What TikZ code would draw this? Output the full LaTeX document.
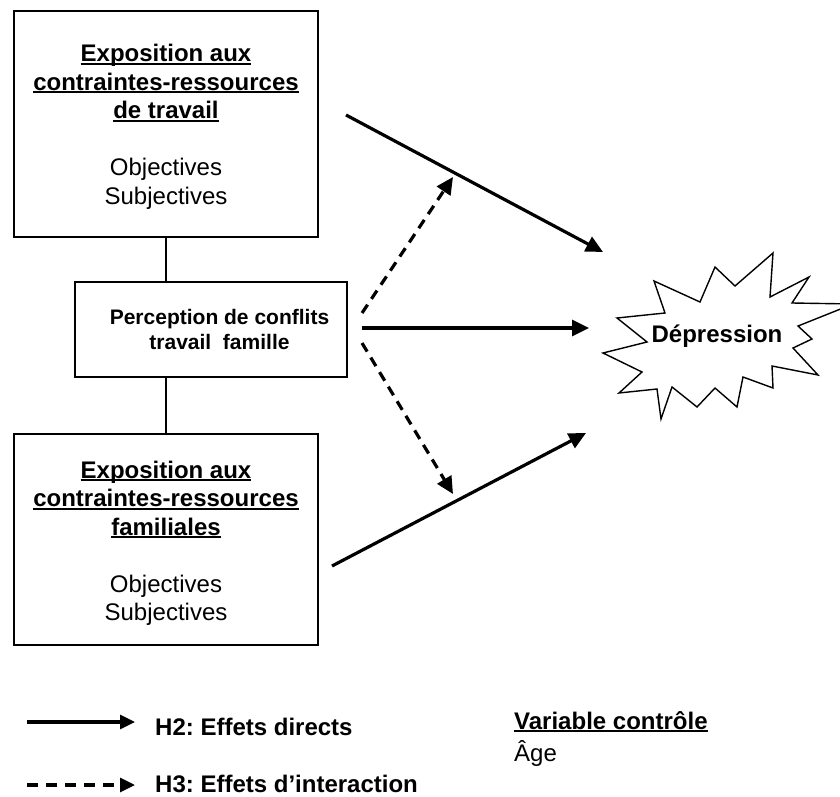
\documentclass[tikz,border=0pt]{standalone}
\usepackage{fontspec}
\setmainfont{Liberation Sans}
\usetikzlibrary{arrows.meta}
\frenchspacing
\newsavebox\ulsave
\newcommand\ulx[1]{\sbox\ulsave{#1}\rlap{\rule[-3pt]{\wd\ulsave}{2pt}}\usebox\ulsave}
\begin{document}
\begin{tikzpicture}[x=1pt,y=-1pt,
  box/.style={draw,line width=1.6pt,inner sep=0pt},
  big/.style={font=\fontsize{24}{28.5}\selectfont,align=center,inner sep=0pt},
  mid/.style={font=\fontsize{21}{25}\selectfont\bfseries,align=center,inner sep=0pt},
  link/.style={line width=1.6pt},
  direct/.style={line width=3.2pt,-{Triangle[length=17pt,width=16pt]}},
  inter/.style={direct,dash pattern=on 10pt off 7pt},
  legdirect/.style={line width=3.2pt,-{Triangle[length=15pt,width=14pt]}},
  leginter/.style={legdirect,dash pattern=on 11pt off 8pt},
  legtext/.style={font=\fontsize{24}{28.5}\selectfont,inner sep=0pt}]
\useasboundingbox (0,0) rectangle (840,797);

% boxes
\node[box,minimum width=304pt,minimum height=226pt] (top) at (166,124) {};
\node[box,minimum width=272pt,minimum height=95pt] (midb) at (211,329.5) {};
\node[box,minimum width=304pt,minimum height=211pt] (bot) at (166,539.5) {};

\node[big] (toptxt) at (166,127) {\ulx{\textbf{Exposition aux}}\\\ulx{\textbf{contraintes-ressources}}\\\ulx{\textbf{de travail}}\\[28.5pt]Objectives\\Subjectives};
\node[big] (bottxt) at (166,543.5) {\ulx{\textbf{Exposition aux}}\\\ulx{\textbf{contraintes-ressources}}\\\ulx{\textbf{familiales}}\\[28.5pt]Objectives\\Subjectives};
\node[mid] (midtxt) at (219.5,329) {Perception de conflits\\travail\ \ famille};

\draw[link] (top.south) -- (top.south |- midb.north);
\draw[link] (bot.north |- midb.south) -- (bot.north);

% starburst
\draw[line width=1.4pt,fill=white]
  (617,318) -- (665,313) -- (654,281) -- (700,302) -- (715,267) -- (735,286)
  -- (773,253) -- (770,297) -- (809,277) -- (792,303) -- (853,304) -- (798,326)
  -- (812,339) -- (793,348) -- (818,375) -- (772,366) -- (773,388) -- (743,377)
  -- (737,407) -- (715,388) -- (697,407) -- (672,387) -- (661,419) -- (657,389)
  -- (619,393) -- (642,372) -- (603,353) -- (647,342) -- cycle;
\node[font=\fontsize{24}{28.5}\selectfont\bfseries,inner sep=0pt,anchor=base] (dep) at (717,342) {Dépression};

% arrows
\coordinate (a1s) at (346,115);
\coordinate (a1e) at (603,252);
\coordinate (a2s) at (362,328);
\coordinate (a2e) at (589,328);
\coordinate (a3s) at (332,566);
\coordinate (a3e) at (586,433);
\coordinate (d1s) at (362,313);
\coordinate (d1e) at (453,177);
\coordinate (d2s) at (362,343);
\coordinate (d2e) at (453,494);
\draw[direct] (a1s) -- (a1e);
\draw[direct] (a2s) -- (a2e);
\draw[direct] (a3s) -- (a3e);
\draw[inter] (d1s) -- (d1e);
\draw[inter] (d2s) -- (d2e);

% legend
\coordinate (l1s) at (27,722);
\coordinate (l1e) at (135,722);
\coordinate (l2s) at (27,785);
\coordinate (l2e) at (135,785);
\draw[legdirect] (l1s) -- (l1e);
\draw[leginter] (l2s) -- (l2e);
\node[legtext,anchor=base west,font=\fontsize{24}{28.5}\selectfont\bfseries] (h2) at (155,735) {H2: Effets directs};
\node[legtext,anchor=base west,font=\fontsize{24}{28.5}\selectfont\bfseries] (h3) at (155,792) {H3: Effets d’interaction};
\node[legtext,anchor=base west] (vc) at (514,729) {\ulx{\textbf{Variable contrôle}}};
\node[legtext,anchor=base west] (age) at (514,761) {Âge};
\end{tikzpicture}
\end{document}
